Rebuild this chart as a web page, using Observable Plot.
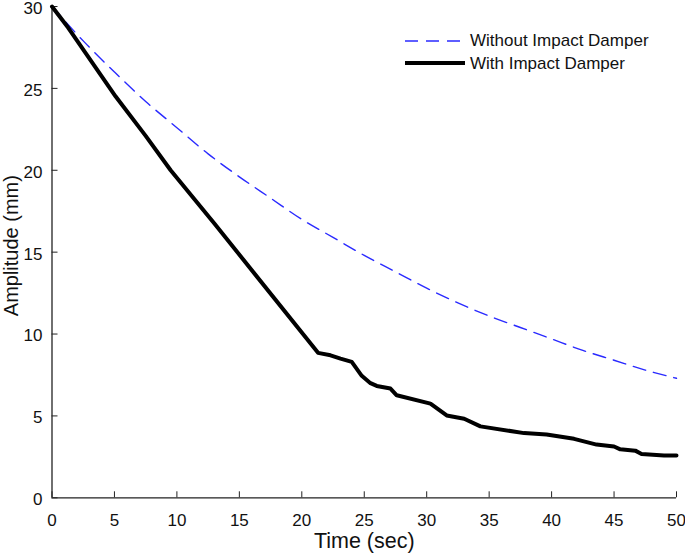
<!DOCTYPE html>
<html><head><meta charset="utf-8">
<script src="https://cdn.jsdelivr.net/npm/d3@7"></script>
<script src="https://cdn.jsdelivr.net/npm/@observablehq/plot@0.6"></script>
<style>
body{margin:0;background:#fff;}
#wrap{position:relative;width:685px;height:559px;font-family:"Liberation Sans",Arial,sans-serif;}
#legend{position:absolute;left:405px;top:29.5px;font-size:17px;color:#111;line-height:1;}
.row{display:flex;align-items:center;height:22.6px;}
.row svg{margin-right:5px;}
</style></head><body><div id="wrap"><div id="legend"></div></div>
<script>
// Without impact damper (blue dashed)
const timeWithout = [0, 2.5, 5, 7.5, 10, 12.5, 15, 17.5, 20, 22.5, 25, 27.5, 30, 32.5, 35, 37.5, 40, 42.5, 45, 47.5, 50];
const ampWithout  = [30.0, 27.9, 26.0, 24.2, 22.6, 21.0, 19.6, 18.3, 17.0, 15.9, 14.8, 13.8, 12.8, 11.9, 11.1, 10.4, 9.7, 9.0, 8.4, 7.8, 7.3];
// With impact damper (black solid)
const timeWith = [0, 1.3, 5.1, 7.5, 9.5, 13.0, 21.3, 22.3, 23.1, 24.0, 24.8, 25.5, 26.0, 27.1, 27.6, 30.3, 31.6, 33.0, 34.3, 37.8, 39.6, 41.8, 43.6, 45.0, 45.5, 46.7, 47.2, 49.0, 50];
const ampWith  = [30.0, 28.7, 24.5, 22.1, 20.0, 16.75, 8.85, 8.7, 8.5, 8.3, 7.45, 7.0, 6.83, 6.67, 6.26, 5.75, 5.03, 4.83, 4.36, 3.95, 3.87, 3.6, 3.25, 3.13, 2.96, 2.88, 2.68, 2.58, 2.58];
const xTicks = [0, 5, 10, 15, 20, 25, 30, 35, 40, 45, 50];
const yTicks = [0, 5, 10, 15, 20, 25, 30];
const xLabel = "Time (sec)";
const yLabel = "Amplitude (mm)";
const seriesNames = ["Without Impact Damper", "With Impact Damper"];

const without = timeWithout.map((t, i) => ({t, a: ampWithout[i]}));
const withD = timeWith.map((t, i) => ({t, a: ampWith[i]}));

const W = 685, H = 559;
const mL = 51.5, mR = 9, mT = 6, mB = 61.7;
const innerW = W - mL - mR, innerH = H - mT - mB;
const axisColor = "#222";

const chart = Plot.plot({
  width: W, height: H,
  marginLeft: mL, marginRight: mR, marginTop: mT, marginBottom: mB,
  style: {fontFamily: '"Liberation Sans", Arial, sans-serif', fontSize: "17px", color: "#111", background: "#fff", overflow: "visible"},
  x: {domain: [0, 50]},
  y: {domain: [0, 30]},
  marks: [
    Plot.axisX(xTicks, {tickSize: 0, tickPadding: 16.5, label: null, fontSize: 17}),
    Plot.axisY(yTicks, {tickSize: 0, tickPadding: 9.5, label: null, fontSize: 17, dy: 2}),
    Plot.ruleX(xTicks, {x: d => d, insetTop: innerH - 6, stroke: axisColor, strokeWidth: 1}),
    Plot.ruleY(yTicks, {y: d => d, insetRight: innerW - 6, stroke: axisColor, strokeWidth: 1}),
    Plot.ruleX([0], {stroke: axisColor, strokeWidth: 1.3}),
    Plot.ruleY([0], {stroke: axisColor, strokeWidth: 1.3}),
    Plot.line(without, {x: "t", y: "a", stroke: "#2a2aff", strokeWidth: 1.4, strokeDasharray: "13,8", curve: "monotone-x"}),
    Plot.line(withD, {x: "t", y: "a", stroke: "#000", strokeWidth: 4, strokeLinejoin: "round"}),
    Plot.text([xLabel], {text: d => d, frameAnchor: "bottom", textAnchor: "middle", lineAnchor: "middle", dy: 43, fontSize: 21.5, fill: "#111"}),
    Plot.text([yLabel], {text: d => d, frameAnchor: "left", textAnchor: "middle", lineAnchor: "middle", dx: -40.5, dy: -6.5, rotate: -90, fontSize: 20, fill: "#111"})
  ]
});
document.getElementById("wrap").prepend(chart);

const legend = document.getElementById("legend");
legend.innerHTML = `
<div class="row"><svg width="60" height="10"><line x1="0" y1="5" x2="60" y2="5" stroke="#2a2aff" stroke-width="1.4" stroke-dasharray="13,8"/></svg><span>${seriesNames[0]}</span></div>
<div class="row"><svg width="60" height="10"><line x1="0" y1="5" x2="60" y2="5" stroke="#000" stroke-width="4"/></svg><span>${seriesNames[1]}</span></div>`;
</script></body></html>
